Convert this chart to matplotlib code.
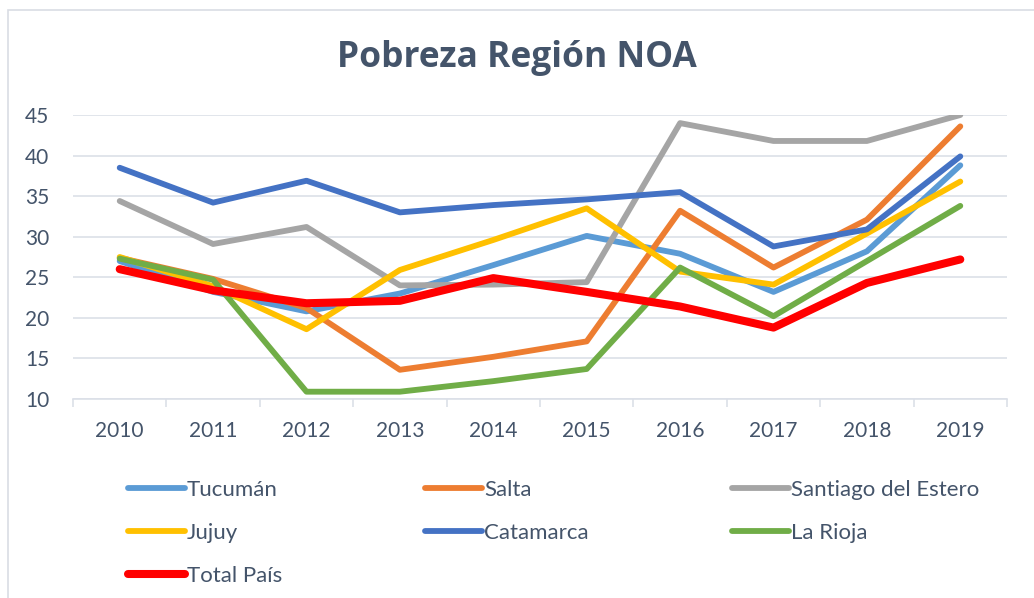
import numpy as np
import matplotlib.pyplot as plt
from matplotlib.patches import Rectangle

# Datos (porcentaje de pobreza)
anios = ["2010", "2011", "2012", "2013", "2014", "2015", "2016", "2017", "2018", "2019"]

tucuman = [27.0, 23.2, 20.8, 23.0, 26.5, 30.1, 27.9, 23.2, 28.2, 38.8]
salta = [27.4, 24.8, 21.2, 13.6, 15.2, 17.1, 33.2, 26.2, 32.1, 43.6]
santiago = [34.4, 29.1, 31.2, 24.0, 24.1, 24.4, 44.0, 41.8, 41.8, 45.0]
jujuy = [27.5, 23.9, 18.6, 25.9, 29.6, 33.5, 25.7, 24.1, 30.4, 36.8]
catamarca = [38.5, 34.2, 36.9, 33.0, 33.9, 34.6, 35.5, 28.8, 30.9, 39.9]
la_rioja = [27.3, 24.7, 10.9, 10.9, 12.2, 13.7, 26.2, 20.2, 27.0, 33.8]
total_pais = [26.0, 23.4, 21.8, 22.1, 24.9, 23.2, 21.4, 18.8, 24.3, 27.2]

series = [
    ("Tucumán", tucuman, "#5B9BD5", 4.2),
    ("Salta", salta, "#ED7D31", 4.2),
    ("Santiago del Estero", santiago, "#A5A5A5", 4.2),
    ("Jujuy", jujuy, "#FFC000", 4.2),
    ("Catamarca", catamarca, "#4472C4", 4.2),
    ("La Rioja", la_rioja, "#70AD47", 4.2),
    ("Total País", total_pais, "#FF0000", 5.8),
]

texto = "#44546A"
grilla = "#DCE0E8"

plt.rcParams['font.family'] = ['Lato', 'DejaVu Sans']

fig = plt.figure(figsize=(10.34, 5.98), dpi=100)
ax = fig.add_axes([73/1034, 1 - 399/598, 934/1034, 284/598])

# marco del gráfico
fig.patches.append(Rectangle((8/1034, -0.1), 1.2, 1 - 10/598 + 0.1, transform=fig.transFigure,
                             fill=False, edgecolor="#D9DDE4", linewidth=1.2))

x = np.arange(len(anios))
lineas = {}
for nombre, valores, color, ancho in series:
    l, = ax.plot(x, valores, color=color, linewidth=ancho, label=nombre,
                 solid_capstyle="round", solid_joinstyle="round")
    lineas[nombre] = l

ax.set_xlim(-0.5, len(anios) - 0.5)
ax.set_ylim(10, 45)
ax.set_yticks(np.arange(10, 46, 5))
ax.set_xticks(x)
ax.set_xticklabels(anios)
ax.set_xticks(np.arange(-0.5, len(anios), 1), minor=True)

ax.grid(axis="y", color=grilla, linewidth=1.2)
ax.set_axisbelow(True)
for lado in ["top", "right", "left"]:
    ax.spines[lado].set_visible(False)
ax.spines["bottom"].set_color(grilla)
ax.spines["bottom"].set_linewidth(1.2)

ax.tick_params(axis="x", which="major", length=0, pad=16, labelsize=15, labelcolor=texto)
ax.tick_params(axis="x", which="minor", length=6, color=grilla, width=1.2)
ax.tick_params(axis="y", length=0, pad=17, labelsize=15, labelcolor=texto)

fig.text(0.5, 1 - 58/598, "Pobreza Región NOA", ha="center", va="center",
         fontsize=25.5, fontweight="bold", color=texto, family="Open Sans")

orden = ["Tucumán", "Jujuy", "Total País", "Salta", "Catamarca",
         "Santiago del Estero", "La Rioja"]
leg = fig.legend([lineas[n] for n in orden], orden, ncol=3,
                 loc="upper left", bbox_to_anchor=(108/1034, 1 - 460/598),
                 frameon=False, fontsize=16, labelcolor=texto,
                 handlelength=2.55, handletextpad=0.1, columnspacing=6.45,
                 labelspacing=1.03)

fig.savefig("out.png", dpi=100)
